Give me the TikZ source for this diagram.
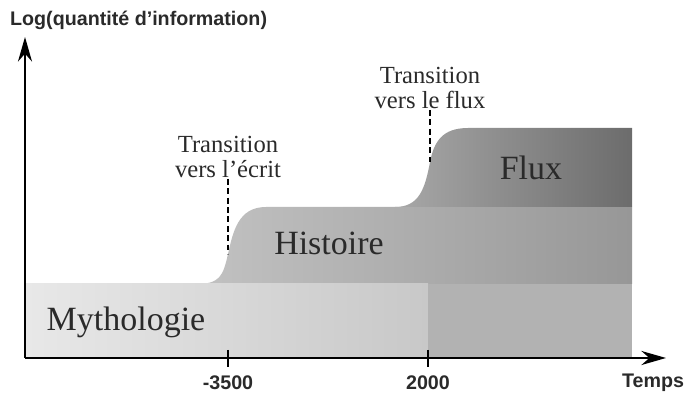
\documentclass[tikz,border=0pt]{standalone}
\usepackage{fontspec}
\setmainfont{Liberation Serif}
\newfontfamily\axisfont{Liberation Sans}
\usetikzlibrary{arrows.meta}
\definecolor{mythL}{HTML}{E8E8E8}\definecolor{mythR}{HTML}{C8C8C8}\definecolor{mythD}{HTML}{B2B2B2}
\definecolor{histL}{HTML}{C2C2C2}\definecolor{histR}{HTML}{979797}
\definecolor{fluxL}{HTML}{A8A8A8}\definecolor{fluxR}{HTML}{6C6C6C}
\definecolor{ink}{HTML}{2A2A2A}
\tikzset{>={Stealth[length=21pt,width=12pt]},axis/.style={line width=1.8pt,->},tick/.style={line width=1.5pt},
trans/.style={line width=1.9pt,dash pattern=on 5pt off 3pt},
axislabel/.style={font=\axisfont\bfseries\fontsize{16.8}{18}\selectfont,text=ink},
band/.style={font=\fontsize{29}{32}\selectfont,text=ink},
translabel/.style={font=\fontsize{21}{21.5}\selectfont,align=center,text=ink,inner sep=1pt}}
\begin{document}
\begin{tikzpicture}[x=.03cm,y=.03cm]
\useasboundingbox (0,0) rectangle (686,394);
\coordinate (O) at (25,36);\coordinate (ytip) at (25,357);\coordinate (xtip) at (666,36);
\shade[left color=histL,right color=histR] (196,110)..controls (220,110) and (223,118)..(228,140) coordinate (ecritpt)..controls (233,162) and (238,187)..(266,187)--(632,187)--(632,110)--cycle;
\shade[left color=fluxL,right color=fluxR] (395,187)..controls (419,187) and (425,205)..(430,232) coordinate (fluxpt)..controls (434,252) and (442,266)..(468,266)--(632,266)--(632,187)--cycle;
\shade[left color=mythL,right color=mythR] (25,36) rectangle (428,110);
\fill[mythD] (428,36) rectangle (632,110);
\draw[axis] (O)--(ytip);\draw[axis] (O)--(xtip);
\foreach \x/\lab/\nm in {228/-3500/ta,428/2000/tb}{\coordinate (\nm u) at (\x,44);\coordinate (\nm d) at (\x,27);
\draw[tick] (\nm u)--(\nm d);\node[axislabel] (\nm) at (\x,11){\lab};}
\node[axislabel,anchor=west] (ylab) at (6,374){Log(quantité d’information)};
\node[axislabel] (temps) at (653,11){Temps};
\node[band] (myth) at (126,72){Mythologie};
\node[band] (hist) at (329,151){Histoire};
\node[band] (flux) at (531,226){Flux};
\node[translabel,anchor=south] (ecrit) at (228,215){Transition\\vers l’écrit};
\node[translabel,anchor=south] (versflux) at (430,284){Transition\\vers le flux};
\draw[trans] (ecrit)--(ecritpt);\draw[trans] (versflux)--(fluxpt);
\end{tikzpicture}
\end{document}
